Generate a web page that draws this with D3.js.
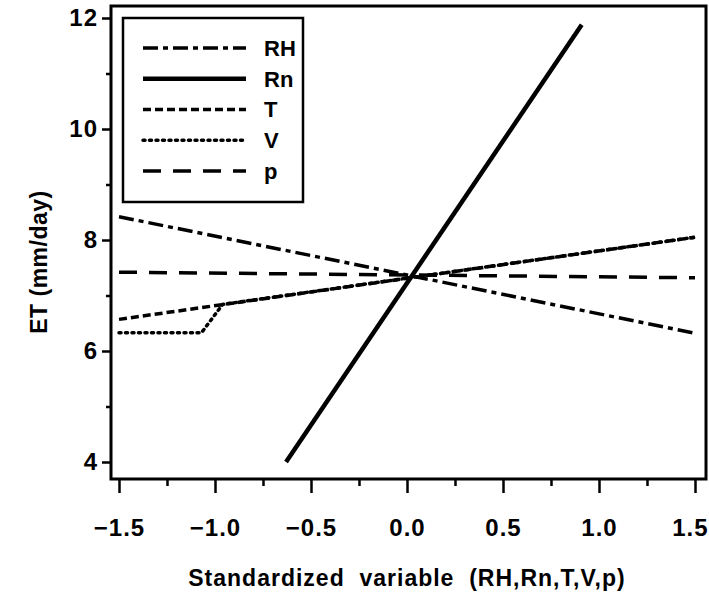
<!DOCTYPE html>
<html>
<head>
<meta charset="utf-8">
<script src="https://cdn.jsdelivr.net/npm/d3@7"></script>
<style>
  body { margin: 0; background: #fff; }
  text { font-family: "Liberation Sans", Arial, sans-serif; font-weight: bold; fill: #000; }
</style>
</head>
<body>
<div id="chart"></div>
<script>
const width = 709;
const height = 598;

// series values
const seriesNames = ['RH', 'Rn', 'T', 'V', 'p'];
const rhX = [-1.5, 1.5];
const rhY = [8.42, 6.32];
const rnX = [-0.63, 0.91];
const rnY = [4.0, 11.88];
const tX = [-1.5, 1.5];
const tY = [6.57, 8.05];
const vX = [-1.5, -1.07, -0.96, 1.5];
const vY = [6.33, 6.33, 6.84, 8.05];
const pX = [-1.5, 1.5];
const pY = [7.42, 7.32];

const xTicks = [-1.5, -1.0, -0.5, 0.0, 0.5, 1.0, 1.5];
const xMinor = [-1.25, -0.75, -0.25, 0.25, 0.75, 1.25];
const yTicks = [4, 6, 8, 10, 12];
const yMinor = [5, 7, 9, 11];

const dashes = {
    RH: '15,5,5,5',
    Rn: null,
    T: '8,4',
    V: '2,4.5',
    p: '18,12'
};

const series = [
    { name: 'RH', xs: rhX, ys: rhY },
    { name: 'Rn', xs: rnX, ys: rnY },
    { name: 'T', xs: tX, ys: tY },
    { name: 'V', xs: vX, ys: vY },
    { name: 'p', xs: pX, ys: pY }
];

const svg = d3.select('#chart')
    .append('svg')
    .attr('width', width)
    .attr('height', height);

const x = d3.scaleLinear()
    .domain([-1.5, 1.5])
    .range([119, 695]);

const y = d3.scaleLinear()
    .domain([4, 12])
    .range([462, 18]);

// plot frame
const frame = { left: 111, right: 706, top: 6, bottom: 479 };
svg.append('rect')
    .attr('x', frame.left)
    .attr('y', frame.top)
    .attr('width', frame.right - frame.left)
    .attr('height', frame.bottom - frame.top)
    .attr('fill', 'none')
    .attr('stroke', '#000')
    .attr('stroke-width', 3);

// bottom axis
const xAxis = svg.append('g')
    .attr('transform', `translate(0, ${frame.bottom})`)
    .call(d3.axisBottom(x).tickValues(xTicks).tickSize(14).tickPadding(26)
        .tickFormat(d => d3.format('.1f')(d).replace('-', '\u2212')));
xAxis.select('.domain').remove();
xAxis.selectAll('line').attr('stroke-width', 2.5);
xAxis.selectAll('text').attr('font-size', 24).attr('letter-spacing', 1);
// last label sits flush against the right edge, as in the original
xAxis.selectAll('text').filter(d => d === 1.5)
    .attr('text-anchor', 'end')
    .attr('dx', 13);

const xAxisMinor = svg.append('g')
    .attr('transform', `translate(0, ${frame.bottom})`)
    .call(d3.axisBottom(x).tickValues(xMinor).tickSize(7).tickFormat(''));
xAxisMinor.select('.domain').remove();
xAxisMinor.selectAll('line').attr('stroke-width', 2.5);

// left axis
const yAxis = svg.append('g')
    .attr('transform', `translate(${frame.left}, 0)`)
    .call(d3.axisLeft(y).tickValues(yTicks).tickSize(9).tickPadding(4));
yAxis.select('.domain').remove();
yAxis.selectAll('line').attr('stroke-width', 2.5);
yAxis.selectAll('text').attr('font-size', 24).attr('letter-spacing', 1);

const yAxisMinor = svg.append('g')
    .attr('transform', `translate(${frame.left}, 0)`)
    .call(d3.axisLeft(y).tickValues(yMinor).tickSize(5).tickFormat(''));
yAxisMinor.select('.domain').remove();
yAxisMinor.selectAll('line').attr('stroke-width', 2.5);

// axis titles
svg.append('text')
    .attr('x', 407)
    .attr('y', 586)
    .attr('text-anchor', 'middle')
    .attr('font-size', 23)
    .attr('letter-spacing', 1)
    .style('white-space', 'pre')
    .text('Standardized  variable  (RH,Rn,T,V,p)');

svg.append('text')
    .attr('transform', 'translate(47, 262) rotate(-90)')
    .attr('text-anchor', 'middle')
    .attr('font-size', 23)
    .attr('letter-spacing', 0.5)
    .text('ET (mm/day)');

// lines
const line = d3.line()
    .x(d => x(d[0]))
    .y(d => y(d[1]));

svg.append('g')
    .selectAll('path')
    .data(series)
    .join('path')
      .attr('d', d => line(d.xs.map((v, i) => [v, d.ys[i]])))
      .attr('fill', 'none')
      .attr('stroke', '#000')
      .attr('stroke-width', d => d.name === 'Rn' ? 4.5 : 3.5)
      .attr('stroke-dasharray', d => dashes[d.name])
      .attr('stroke-linecap', d => d.name === 'V' ? 'round' : 'butt');

// legend
const legend = svg.append('g');
legend.append('rect')
    .attr('x', 123)
    .attr('y', 18)
    .attr('width', 180)
    .attr('height', 184)
    .attr('fill', '#fff')
    .attr('stroke', '#000')
    .attr('stroke-width', 2.5);

const legendY = d3.scalePoint()
    .domain(seriesNames)
    .range([48, 171]);

const rows = legend.selectAll('g.row')
    .data(seriesNames)
    .join('g')
      .attr('class', 'row')
      .attr('transform', d => `translate(0, ${legendY(d)})`);

rows.append('line')
    .attr('x1', 143)
    .attr('x2', 246)
    .attr('stroke', '#000')
    .attr('stroke-width', d => d === 'Rn' ? 4.5 : 3.5)
    .attr('stroke-dasharray', d => dashes[d])
    .attr('stroke-linecap', d => d === 'V' ? 'round' : 'butt');

rows.append('text')
    .attr('x', 264)
    .attr('dy', '0.36em')
    .attr('font-size', 22)
    .text(d => d);
</script>
</body>
</html>
